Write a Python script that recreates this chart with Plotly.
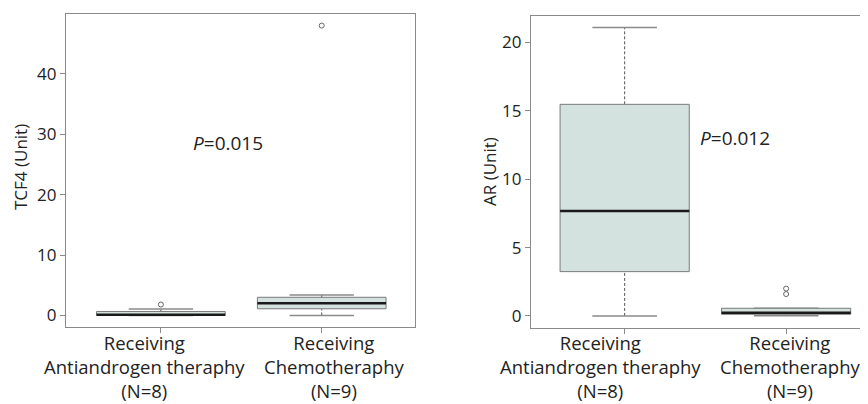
import plotly.graph_objects as go

# ---------------- data ----------------
categories = ["Receiving<br>Antiandrogen theraphy<br>(N=8)", "Receiving<br>Chemotheraphy<br>(N=9)"]
positions = [1, 2]

tcf4_lower = [0.0, 0.0]
tcf4_q1 = [0.0, 1.1]
tcf4_median = [0.1, 2.0]
tcf4_q3 = [0.65, 3.0]
tcf4_upper = [1.05, 3.4]
tcf4_out_x = [1, 2]
tcf4_out_y = [1.8, 48.0]

ar_lower = [0.0, 0.02]
ar_q1 = [3.24, 0.12]
ar_median = [7.68, 0.24]
ar_q3 = [15.47, 0.56]
ar_upper = [21.08, 0.56]
ar_out_x = [2, 2]
ar_out_y = [2.0, 1.6]

tcf4_ticks = [0, 10, 20, 30, 40]
ar_ticks = [0, 5, 10, 15, 20]

# ---------------- style ----------------
FONT = "Open Sans"
TXT = "#222222"
GRAY = "#8a8a8a"
FILL = "#d4e2df"
BOX_HALF = 0.4
CAP_HALF = 0.2
W, H = 860, 396  # page body has an 8px margin

fig = go.Figure()
shapes = []


def add_boxes(xref, yref, lower, q1, med, q3, upper):
    for i, p in enumerate(positions):
        # dashed whiskers
        if upper[i] > q3[i]:
            shapes.append(dict(type="line", xref=xref, yref=yref, x0=p, x1=p, y0=q3[i], y1=upper[i],
                               line=dict(color="#555555", width=1, dash="3px,2px")))
        if lower[i] < q1[i]:
            shapes.append(dict(type="line", xref=xref, yref=yref, x0=p, x1=p, y0=lower[i], y1=q1[i],
                               line=dict(color="#555555", width=1, dash="3px,2px")))
        # caps
        for v in (lower[i], upper[i]):
            shapes.append(dict(type="line", xref=xref, yref=yref, x0=p - CAP_HALF, x1=p + CAP_HALF, y0=v, y1=v,
                               line=dict(color=GRAY, width=1.5)))
        # box
        shapes.append(dict(type="rect", xref=xref, yref=yref, x0=p - BOX_HALF, x1=p + BOX_HALF,
                           y0=q1[i], y1=q3[i], fillcolor=FILL, line=dict(color="#7a7a7a", width=1)))
        # median
        shapes.append(dict(type="line", xref=xref, yref=yref, x0=p - BOX_HALF, x1=p + BOX_HALF,
                           y0=med[i], y1=med[i], line=dict(color="#1a1a1a", width=2.5)))


add_boxes("x", "y", tcf4_lower, tcf4_q1, tcf4_median, tcf4_q3, tcf4_upper)
add_boxes("x2", "y2", ar_lower, ar_q1, ar_median, ar_q3, ar_upper)

# outliers
fig.add_trace(go.Scatter(x=tcf4_out_x, y=tcf4_out_y, mode="markers", xaxis="x", yaxis="y",
                         marker=dict(symbol="circle-open", size=5, color="#666666", line=dict(width=1)),
                         showlegend=False, hoverinfo="skip"))
fig.add_trace(go.Scatter(x=ar_out_x, y=ar_out_y, mode="markers", xaxis="x2", yaxis="y2",
                         marker=dict(symbol="circle-open", size=5, color="#666666", line=dict(width=1)),
                         showlegend=False, hoverinfo="skip"))

axis_common = dict(showline=True, linecolor=GRAY, linewidth=1.2, ticks="outside", ticklen=5,
                   tickcolor=GRAY, showgrid=False, zeroline=False, automargin=False,
                   tickfont=dict(family=FONT, size=17, color=TXT))
xfont = dict(family=FONT, size=18.5, color=TXT)

# category labels placed under ticks (nudged sideways as in the original to avoid overlap)
label_shift_left = [-16, 12]
label_shift_right = [-24, 4]
label_top = 1 - 320 / H
annotations = []
for i, p in enumerate(positions):
    annotations.append(dict(text=categories[i], x=p, y=label_top, xref="x", yref="paper", showarrow=False,
                            xanchor="center", yanchor="top", xshift=label_shift_left[i], font=xfont))
    annotations.append(dict(text=categories[i], x=p, y=label_top, xref="x2", yref="paper", showarrow=False,
                            xanchor="center", yanchor="top", xshift=label_shift_right[i], font=xfont))

annotations += [
    dict(text="<i>P</i>=0.015", x=1.42, y=28.6, xref="x", yref="y", showarrow=False,
         xanchor="center", yanchor="middle", font=dict(family=FONT, size=19, color=TXT)),
    dict(text="<i>P</i>=0.012", x=1.685, y=13.0, xref="x2", yref="y2", showarrow=False,
         xanchor="center", yanchor="middle", font=dict(family=FONT, size=19, color=TXT)),
    dict(text="TCF4 (Unit)", x=12 / W, y=1 - 159 / H, xref="paper", yref="paper", showarrow=False,
         xanchor="center", yanchor="middle", textangle=-90, font=dict(family=FONT, size=17, color=TXT)),
    dict(text="AR (Unit)", x=481 / W, y=1 - 164 / H, xref="paper", yref="paper", showarrow=False,
         xanchor="center", yanchor="middle", textangle=-90, font=dict(family=FONT, size=17, color=TXT)),
]

fig.update_layout(
    width=W, height=H,
    margin=dict(l=0, r=0, t=0, b=0),
    paper_bgcolor="white", plot_bgcolor="white",
    shapes=shapes,
    xaxis=dict(domain=[58 / W, 407 / W], range=[0.41, 2.58], tickvals=positions, showticklabels=False,
               mirror=True, anchor="y", **axis_common),
    yaxis=dict(domain=[1 - 319 / H, 1 - 6 / H], range=[-1.92, 49.92], tickvals=tcf4_ticks, mirror=True,
               anchor="x", **axis_common),
    xaxis2=dict(domain=[523 / W, 1.0], range=[0.42, 2.507], tickvals=positions, showticklabels=False,
                mirror=True, anchor="y2", **axis_common),
    yaxis2=dict(domain=[1 - 319.7 / H, 1 - 7.7 / H], range=[-0.86, 21.95], tickvals=ar_ticks, mirror=False,
                anchor="x2", **axis_common),
    annotations=annotations,
)

fig.write_html("out.html")
